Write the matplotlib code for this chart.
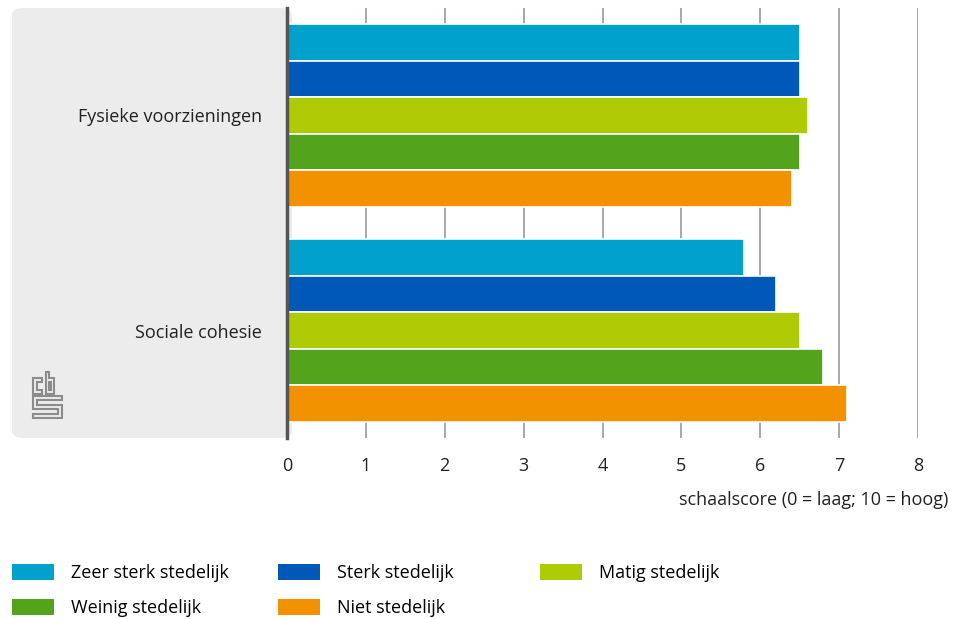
import matplotlib.pyplot as plt
from matplotlib.patches import FancyBboxPatch, Patch, Polygon

plt.rcParams['font.family'] = ['Open Sans', 'DejaVu Sans']

# data
categories = ['Fysieke voorzieningen', 'Sociale cohesie']
series = ['Zeer sterk stedelijk', 'Sterk stedelijk', 'Matig stedelijk',
          'Weinig stedelijk', 'Niet stedelijk']
zeer_sterk = [6.5, 5.8]
sterk = [6.5, 6.2]
matig = [6.6, 6.5]
weinig = [6.5, 6.8]
niet = [6.4, 7.1]
values = [zeer_sterk, sterk, matig, weinig, niet]
colors = ['#00A1CD', '#0058B8', '#AFCB05', '#53A31D', '#F39200']
xticks = [0, 1, 2, 3, 4, 5, 6, 7, 8]

W, H = 956, 619
FS = 13
fig = plt.figure(figsize=(W / 100, H / 100), dpi=100)

# grey panel behind the category labels
panel = FancyBboxPatch((12 / W, 1 - 438 / H), (292 - 12) / W, (438 - 8) / H,
                       boxstyle='round,pad=0,rounding_size=0.012',
                       transform=fig.transFigure, facecolor='#ECECEC',
                       edgecolor='none', zorder=-1)
fig.patches.append(panel)

ax = fig.add_axes([287 / W, 1 - 438 / H, (918 - 287) / W, (438 - 8) / H])
ax.patch.set_alpha(0)

bar_h = 0.1694
for i, (vals, col) in enumerate(zip(values, colors)):
    pos = [c - 2 * bar_h + i * bar_h for c in range(len(categories))]
    ax.barh(pos, vals, height=bar_h, color=col, edgecolor='white',
            linewidth=1.2, zorder=3, label=series[i])

ax.set_xlim(0, 8)
ax.set_ylim(1.5, -0.5)
ax.set_xticks(xticks)
ax.set_xticklabels([str(t) for t in xticks], fontsize=FS, color='#222222')
ax.tick_params(axis='x', length=0, pad=14)
ax.set_yticks(range(len(categories)))
ax.set_yticklabels(categories, fontsize=FS, color='#222222')
ax.tick_params(axis='y', length=0, pad=18)
ax.grid(axis='x', color='#9A9A9A', linewidth=1.2, zorder=1)
for s in ['top', 'right', 'bottom']:
    ax.spines[s].set_visible(False)
ax.spines['left'].set_color('#555555')
ax.spines['left'].set_linewidth(2.5)
ax.spines['left'].set_zorder(4)

fig.text(948 / W, 1 - 500 / H, 'schaalscore (0 = laag; 10 = hoog)',
         ha='right', va='center', fontsize=FS, color='#222222')

# cbs logo outline
logo = [
    [(42, 378), (33, 378), (33, 394), (42, 394), (42, 390), (37, 390),
     (37, 382), (42, 382)],
    [(46, 372), (49, 372), (49, 378), (54, 378), (54, 394), (46, 394)],
    [(49, 382), (51, 382), (51, 390), (49, 390)],
    [(33, 396), (62, 396), (62, 400), (37, 400), (37, 405), (62, 405),
     (62, 418), (33, 418), (33, 414), (58, 414), (58, 409), (33, 409)],
]
for pts in logo:
    poly = Polygon([(x / W, 1 - y / H) for x, y in pts], closed=True,
                   transform=fig.transFigure, facecolor='none',
                   edgecolor='#8C8C8C', linewidth=1.5)
    fig.add_artist(poly)

# legend, one column at a time to match the layout
handles = [Patch(facecolor=c, edgecolor='none') for c in colors]
columns = [([0, 3], 12 / W), ([1, 4], 278 / W), ([2], 540 / W)]
for idx, x0 in columns:
    fig.legend([handles[i] for i in idx], [series[i] for i in idx],
               loc='upper left', bbox_to_anchor=(x0, 1 - 564 / H),
               frameon=False, fontsize=FS, handlelength=2.35,
               handleheight=0.95, handletextpad=0.9, labelspacing=0.95,
               borderaxespad=0, borderpad=0)

fig.savefig('out.png', dpi=100)
